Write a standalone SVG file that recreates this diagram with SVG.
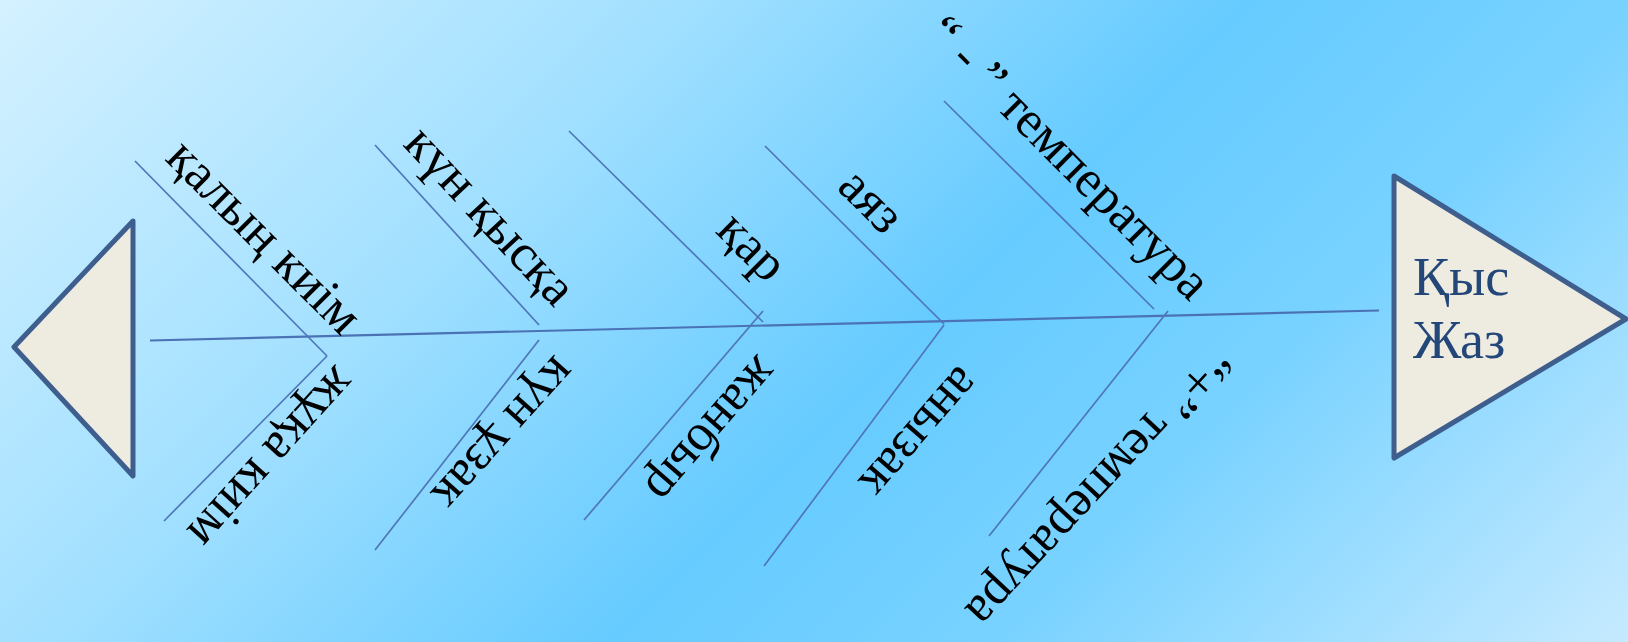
<svg xmlns="http://www.w3.org/2000/svg" width="1628" height="642" viewBox="0 0 1628 642">
<defs>
<linearGradient id="bg" gradientUnits="userSpaceOnUse" x1="0" y1="0" x2="1135" y2="1135">
<stop offset="0" stop-color="#D4F1FF"/>
<stop offset="0.3" stop-color="#A2E0FF"/>
<stop offset="0.55" stop-color="#66CBFF"/>
<stop offset="0.72" stop-color="#78D2FF"/>
<stop offset="1" stop-color="#C6EAFF"/>
</linearGradient>
<style>
.bone{stroke:#4E76B8;stroke-width:1.7;fill:none}
.spine{stroke:#4A72B5;stroke-width:2.2;fill:none}
.tri{fill:#EEEBE0;stroke:#3E5F8E;stroke-width:5;stroke-linejoin:round}
.lbl{font-family:"Liberation Serif","Times New Roman",serif;font-size:52px;fill:#000;text-anchor:middle}
.head{font-family:"Liberation Serif","Times New Roman",serif;font-size:54px;fill:#24477A}
</style>
</defs>
<rect width="1628" height="642" fill="url(#bg)"/>
<g id="connectors">
<line class="spine" x1="150" y1="340.5" x2="1379" y2="310.5"/>
<line class="bone" x1="135" y1="161" x2="327" y2="356"/>
<line class="bone" x1="375" y1="145" x2="539" y2="325"/>
<line class="bone" x1="569" y1="131" x2="763" y2="322"/>
<line class="bone" x1="765" y1="146" x2="944" y2="324"/>
<line class="bone" x1="944" y1="101" x2="1154" y2="309"/>
<line class="bone" x1="327" y1="356" x2="164" y2="521"/>
<line class="bone" x1="539" y1="340" x2="375" y2="550"/>
<line class="bone" x1="763" y1="311" x2="584" y2="520"/>
<line class="bone" x1="944" y1="325" x2="764" y2="566"/>
<line class="bone" x1="1168" y1="311" x2="989" y2="536"/>
</g>
<g id="tail">
<polygon class="tri" points="133,221 14,347 133,476"/>
</g>
<g id="head">
<polygon class="tri" points="1394,176 1626,319 1394,458"/>
<text class="head" x="1413" y="295">Қыс</text>
<text class="head" x="1413" y="358">Жаз</text>
</g>
<g id="upper1"><text class="lbl" transform="translate(264,237) rotate(45)" y="16">қалың киім</text></g>
<g id="upper2"><text class="lbl" transform="translate(490,216) rotate(47)" y="16">күн қысқа</text></g>
<g id="upper3"><text class="lbl" transform="translate(752,247) rotate(45)" y="16">қар</text></g>
<g id="upper4"><text class="lbl" transform="translate(871,201) rotate(45)" y="16">аяз</text></g>
<g id="upper5"><text class="lbl" transform="translate(1068,158) rotate(45)" y="16">“ - ” температура</text></g>
<g id="lower1"><text class="lbl" transform="translate(272,458) rotate(132)" y="16">жұқа киім</text></g>
<g id="lower2"><text class="lbl" transform="translate(504,434) rotate(132)" y="16">күн ұзак</text></g>
<g id="lower3"><text class="lbl" transform="translate(712,430) rotate(131)" y="16">жанбыр</text></g>
<g id="lower4"><text class="lbl" transform="translate(920,433) rotate(131)" y="16">анызак</text></g>
<g id="lower5"><text class="lbl" transform="translate(1099,487) rotate(133)" y="16">“+” температура</text></g>
</svg>
